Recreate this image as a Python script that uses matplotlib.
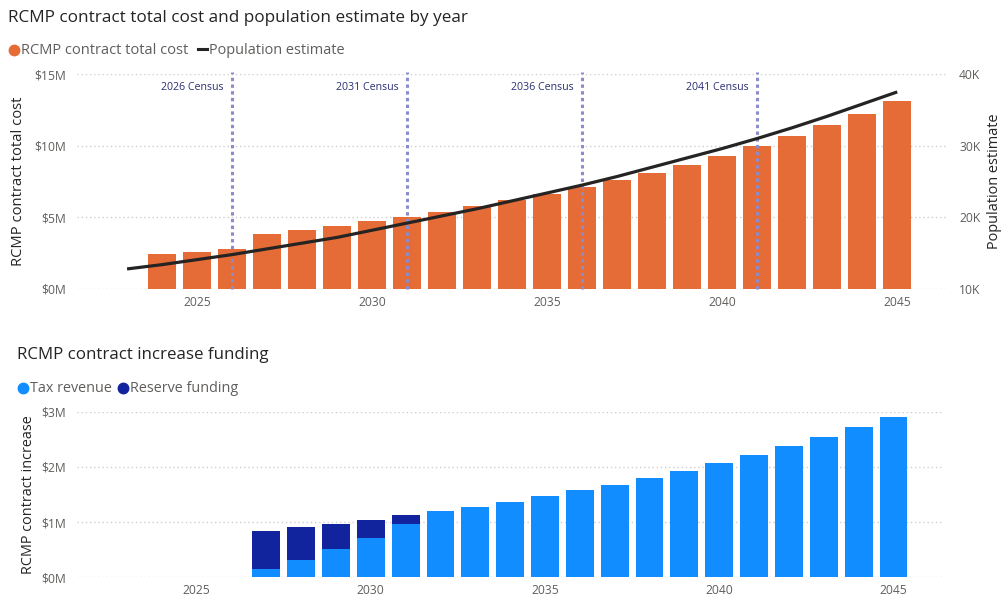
import matplotlib
matplotlib.use("Agg")
import matplotlib.pyplot as plt
from matplotlib.lines import Line2D

plt.rcParams['font.family'] = ['Open Sans', 'DejaVu Sans']

# ---------------- data ----------------
cost_years = list(range(2024, 2046))
cost_musd = [2.44, 2.60, 2.81, 3.86, 4.12, 4.37, 4.72, 5.04, 5.39, 5.76, 6.18,
             6.63, 7.09, 7.58, 8.09, 8.66, 9.30, 9.98, 10.68, 11.42, 12.23, 13.09]

pop_years = list(range(2023, 2046))
pop_k = [12.8, 13.4, 14.1, 14.8, 15.6, 16.4, 17.2, 18.2, 19.2, 20.2, 21.2, 22.3,
         23.4, 24.5, 25.7, 27.0, 28.3, 29.6, 31.0, 32.5, 34.1, 35.8, 37.5]

census_years = [2026, 2031, 2036, 2041]

fund_years = list(range(2027, 2046))
tax_musd = [0.15, 0.31, 0.51, 0.72, 0.97, 1.20, 1.28, 1.37, 1.47, 1.58, 1.68,
            1.80, 1.93, 2.07, 2.21, 2.37, 2.54, 2.72, 2.91]
reserve_musd = [0.69, 0.60, 0.46, 0.32, 0.15, 0, 0, 0, 0, 0, 0,
                0, 0, 0, 0, 0, 0, 0, 0]

x_ticks = [2025, 2030, 2035, 2040, 2045]
cost_ticks = [0, 5, 10, 15]
pop_ticks = [10, 20, 30, 40]
fund_ticks = [0, 1, 2, 3]

# ---------------- style ----------------
ORANGE = '#E66C37'
BLUE = '#118DFF'
NAVY = '#12239E'
LINE = '#252423'
CENSUS = '#8A8CCB'
CENSUS_TXT = '#2B2F72'
TXT = '#252423'
TICK = '#605E5C'
GRID = '#CFCFCF'

W, H = 1008, 608
fig = plt.figure(figsize=(W / 100, H / 100), dpi=100)


def fx(px):
    return px / W


def fy(py):
    return 1 - py / H


XL = (2021.57, 2046.45)


def style_axes(ax):
    for s in ax.spines.values():
        s.set_visible(False)
    ax.tick_params(length=0, colors=TICK, labelsize=8.7)
    ax.tick_params(axis='y', pad=8)
    ax.tick_params(axis='x', pad=5)
    ax.grid(axis='y', color=GRID, linestyle=(0, (1, 2)), linewidth=1)
    ax.set_axisbelow(True)
    ax.set_xlim(*XL)
    ax.set_xticks(x_ticks)
    ax.set_xticklabels([str(t) for t in x_ticks])


# ---------------- top chart ----------------
ax1 = fig.add_axes([fx(77), fy(289), fx(948) - fx(77), fy(74) - fy(289)])
style_axes(ax1)
ax1.bar(cost_years, cost_musd, width=0.8, color=ORANGE, zorder=2)
ax1.set_ylim(0, 15)
ax1.set_yticks(cost_ticks)
ax1.set_yticklabels([f'${t}M' for t in cost_ticks])
ax1.set_ylabel('RCMP contract total cost', color=TXT, fontsize=10.6, labelpad=6)

for cy in census_years:
    ax1.axvline(cy, ymin=0, ymax=1.01, color=CENSUS, linewidth=2.2,
                linestyle=(0, (1.1, 1.1)), zorder=3, clip_on=False)
    ax1.text(cy - 0.25, 14.06, f'{cy} Census', ha='right', va='center',
             fontsize=7.7, color=CENSUS_TXT, zorder=4)

ax2 = ax1.twinx()
for s in ax2.spines.values():
    s.set_visible(False)
ax2.plot(pop_years, pop_k, color=LINE, linewidth=2.3, zorder=5,
         solid_capstyle='butt')
ax2.set_ylim(10, 40)
ax2.set_yticks(pop_ticks)
ax2.set_yticklabels([f'{t}K' for t in pop_ticks])
ax2.tick_params(length=0, colors=TICK, labelsize=8.7, pad=8)
ax2.set_ylabel('Population estimate', color=TXT, fontsize=10.45, labelpad=5)

fig.text(fx(8), fy(18), 'RCMP contract total cost and population estimate by year',
         ha='left', va='center', fontsize=12.35, color=TXT)
fig.add_artist(Line2D([fx(14)], [fy(50)], marker='o', markersize=7.5,
                      color=ORANGE, linestyle='none', transform=fig.transFigure))
fig.text(fx(21), fy(50), 'RCMP contract total cost', ha='left', va='center',
         fontsize=10.55, color=TICK)
fig.add_artist(Line2D([fx(198), fx(207)], [fy(49), fy(49)], color=LINE,
                      linewidth=2.2, transform=fig.transFigure))
fig.text(fx(209), fy(50), 'Population estimate', ha='left', va='center',
         fontsize=10.45, color=TICK)

# ---------------- bottom chart ----------------
ax3 = fig.add_axes([fx(77), fy(577.3), fx(944) - fx(77), fy(411.7) - fy(577.3)])
style_axes(ax3)
ax3.bar(fund_years, tax_musd, width=0.8, color=BLUE, zorder=2)
ax3.bar(fund_years, reserve_musd, width=0.8, bottom=tax_musd, color=NAVY, zorder=2)
ax3.set_ylim(0, 3)
ax3.set_yticks(fund_ticks)
ax3.set_yticklabels([f'${t}M' for t in fund_ticks])
ax3.set_ylabel('RCMP contract increase', color=TXT, fontsize=10.4, labelpad=4)

fig.text(fx(17), fy(355), 'RCMP contract increase funding', ha='left',
         va='center', fontsize=12.2, color=TXT)
fig.add_artist(Line2D([fx(23)], [fy(388)], marker='o', markersize=7.5,
                      color=BLUE, linestyle='none', transform=fig.transFigure))
fig.text(fx(30), fy(388), 'Tax revenue', ha='left', va='center',
         fontsize=10.4, color=TICK)
fig.add_artist(Line2D([fx(123)], [fy(388)], marker='o', markersize=7.5,
                      color=NAVY, linestyle='none', transform=fig.transFigure))
fig.text(fx(130), fy(388), 'Reserve funding', ha='left', va='center',
         fontsize=10.4, color=TICK)

fig.savefig('out.png', dpi=100, facecolor='white')
